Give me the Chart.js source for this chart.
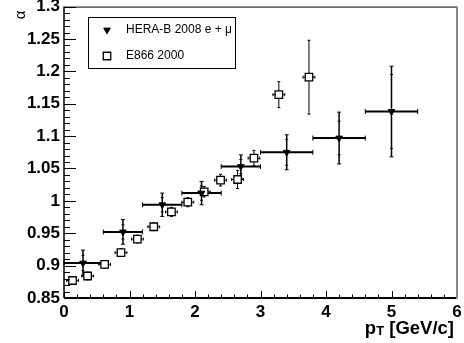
<!DOCTYPE html>
<html>
<head>
<meta charset="utf-8">
<script src="https://cdn.jsdelivr.net/npm/chart.js@4/dist/chart.umd.min.js"></script>
<style>
body{margin:0;background:#fff}
</style>
</head>
<body>
<canvas id="myChart" width="464" height="343"></canvas>
<script>
// HERA-B 2008 e + mu : bin centre, bin edges, total and stat errors
const heraX=[0.29,0.9,1.5,2.1,2.7,3.4,4.2,5.0];
const heraY=[0.904,0.952,0.994,1.012,1.053,1.075,1.097,1.138];
const heraXLo=[0,0.6,1.2,1.8,2.4,3.0,3.8,4.6];
const heraXHi=[0.6,1.2,1.8,2.4,3.0,3.8,4.6,5.4];
const heraErr=[0.02,0.019,0.018,0.018,0.018,0.027,0.04,0.07];
const heraStat=[0.012,0.011,0.011,0.011,0.011,0.02,0.026,0.057];
// E866 2000
const e866X=[0.13,0.36,0.62,0.87,1.12,1.37,1.64,1.89,2.14,2.39,2.65,2.9,3.28,3.74];
const e866Y=[0.877,0.884,0.902,0.920,0.941,0.960,0.983,0.998,1.014,1.032,1.033,1.066,1.164,1.191];
const e866Err=[0.006,0.006,0.006,0.006,0.006,0.006,0.007,0.007,0.008,0.009,0.014,0.012,0.02,0.057];
const e866XErr=[0.09,0.09,0.09,0.09,0.09,0.09,0.09,0.09,0.09,0.09,0.09,0.09,0.09,0.09];
// axes
const xRange=[0,6], xStep=1, xMinor=0.2;
const yRange=[0.85,1.3], yStep=0.05, yMinor=0.01;
const seriesNames=["HERA-B 2008 e + \u03bc","E866 2000"];
const yTitle="\u03b1";

const labelFont={family:"'Liberation Sans', Arial, sans-serif",size:17,weight:"bold"};

function line(ctx,x0,y0,x1,y1){
    ctx.beginPath();ctx.moveTo(x0,y0);ctx.lineTo(x1,y1);ctx.stroke();
}

const errorBars={
    id:"errorBars",
    beforeDatasetsDraw(chart){
        const ctx=chart.ctx, x=chart.scales.x, y=chart.scales.y;
        ctx.save();
        ctx.strokeStyle="#000";
        heraX.forEach((v,i)=>{
            const px=x.getPixelForValue(v), py=y.getPixelForValue(heraY[i]);
            const x0=x.getPixelForValue(heraXLo[i]), x1=x.getPixelForValue(heraXHi[i]);
            const yt=y.getPixelForValue(heraY[i]+heraErr[i]), yb=y.getPixelForValue(heraY[i]-heraErr[i]);
            const st=y.getPixelForValue(heraY[i]+heraStat[i]), sb=y.getPixelForValue(heraY[i]-heraStat[i]);
            ctx.lineWidth=2;
            line(ctx,x0,py,x1,py);
            ctx.lineWidth=1;
            line(ctx,x0,py-2.5,x0,py+2.5);
            line(ctx,x1,py-2.5,x1,py+2.5);
            ctx.lineWidth=1.5;
            line(ctx,px,yt,px,yb);
            ctx.lineWidth=1;
            line(ctx,px-2,yt,px+2,yt);
            line(ctx,px-2,yb,px+2,yb);
            line(ctx,px-1.5,st,px+1.5,st);
            line(ctx,px-1.5,sb,px+1.5,sb);
        });
        ctx.lineWidth=1;
        e866X.forEach((v,i)=>{
            const px=x.getPixelForValue(v), py=y.getPixelForValue(e866Y[i]);
            const x0=x.getPixelForValue(v-e866XErr[i]), x1=x.getPixelForValue(v+e866XErr[i]);
            const yt=y.getPixelForValue(e866Y[i]+e866Err[i]), yb=y.getPixelForValue(e866Y[i]-e866Err[i]);
            line(ctx,x0,py,x1,py);
            line(ctx,x0,py-1.5,x0,py+1.5);
            line(ctx,x1,py-1.5,x1,py+1.5);
            line(ctx,px,yt,px,yb);
            line(ctx,px-1.5,yt,px+1.5,yt);
            line(ctx,px-1.5,yb,px+1.5,yb);
        });
        ctx.restore();
    }
};

const frame={
    id:"frame",
    afterDraw(chart){
        const ctx=chart.ctx, a=chart.chartArea, x=chart.scales.x, y=chart.scales.y;
        ctx.save();
        ctx.strokeStyle="#000";
        // ticks
        ctx.lineWidth=1;
        for(let v=xRange[0];v<=xRange[1]+1e-9;v+=xMinor){
            const px=Math.round(x.getPixelForValue(v))+0.5;
            const major=Math.abs(v-Math.round(v/xStep)*xStep)<1e-6;
            line(ctx,px,a.bottom,px,a.bottom-(major?7:3.5));
        }
        for(let v=yRange[0];v<=yRange[1]+1e-9;v+=yMinor){
            const py=Math.round(y.getPixelForValue(v))+0.5;
            const major=Math.abs(v/yStep-Math.round(v/yStep))<1e-4;
            line(ctx,a.left,py,a.left+(major?12:6),py);
        }
        // frame
        ctx.lineWidth=1;
        line(ctx,a.left,a.top+0.5,a.right,a.top+0.5);
        ctx.lineWidth=1.5;
        line(ctx,a.left,a.top,a.left,a.bottom);
        ctx.lineWidth=2;
        line(ctx,a.left,a.bottom,a.right,a.bottom);
        ctx.strokeStyle="#888";
        line(ctx,a.right,a.top,a.right,a.bottom+1);

        // legend
        ctx.strokeStyle="#000";
        ctx.lineWidth=1;
        ctx.strokeRect(88.5,17.5,147,51);
        const ds=chart.data.datasets;
        const rows=[30,56];
        ds.forEach((d,i)=>{
            ctx.fillStyle=d.backgroundColor;
            ctx.strokeStyle=d.borderColor;
            ctx.lineWidth=d.borderWidth;
            Chart.helpers.drawPoint(ctx,{pointStyle:d.pointStyle,rotation:d.rotation||0,radius:d.pointRadius,borderWidth:d.borderWidth},107,rows[i]);
            ctx.fillStyle="#000";
            ctx.font="12px 'Liberation Sans', Arial, sans-serif";
            ctx.textBaseline="middle";
            ctx.textAlign="left";
            ctx.fillText(d.label,126,rows[i]);
        });

        // axis titles
        ctx.fillStyle="#000";
        ctx.textBaseline="alphabetic";
        ctx.textAlign="left";
        const big="bold 18.5px 'Liberation Sans', Arial, sans-serif";
        const small="bold 13px 'Liberation Sans', Arial, sans-serif";
        ctx.font=big;
        const w1=ctx.measureText("p").width;
        const w3=ctx.measureText(" [GeV/c]").width;
        ctx.font=small;
        const w2=ctx.measureText("T").width;
        let tx=a.right-3-(w1+w2+w3);
        const base=334;
        ctx.font=big;ctx.fillText("p",tx,base);tx+=w1;
        ctx.font=small;ctx.fillText("T",tx,base+1);tx+=w2;
        ctx.font=big;ctx.fillText(" [GeV/c]",tx,base);

        ctx.translate(25,a.top+4);
        ctx.rotate(-Math.PI/2);
        ctx.textAlign="right";
        ctx.font="15px 'Liberation Sans', Arial, sans-serif";
        ctx.fillText(yTitle,0,0);
        ctx.restore();
    }
};

new Chart(document.getElementById("myChart"),{
    type:"scatter",
    data:{
        datasets:[{
            label:seriesNames[0],
            data:heraX.map((v,i)=>({x:v,y:heraY[i]})),
            pointStyle:"triangle",
            rotation:180,
            pointRadius:3.8,
            backgroundColor:"#000",
            borderColor:"#000",
            borderWidth:1
        },{
            label:seriesNames[1],
            data:e866X.map((v,i)=>({x:v,y:e866Y[i]})),
            pointStyle:"rect",
            pointRadius:5.3,
            backgroundColor:"#fff",
            borderColor:"#000",
            borderWidth:1.3
        }]
    },
    options:{
        responsive:false,
        animation:false,
        layout:{padding:{top:4,right:7,left:0,bottom:0}},
        plugins:{legend:{display:false},tooltip:{enabled:false}},
        scales:{
            x:{
                type:"linear",min:xRange[0],max:xRange[1],
                grid:{display:false,drawTicks:false},
                border:{display:false},
                ticks:{stepSize:xStep,padding:4,color:"#000",font:labelFont,maxRotation:0,
                    callback:v=>String(v)},
                afterFit(s){s.height=45;s.paddingLeft=0;s.paddingRight=0;}
            },
            y:{
                type:"linear",min:yRange[0],max:yRange[1],
                grid:{display:false,drawTicks:false},
                border:{display:false},
                ticks:{stepSize:yStep,padding:4,color:"#000",font:labelFont,
                    callback:v=>String(+v.toFixed(2))},
                afterFit(s){s.width=64;s.paddingTop=0;s.paddingBottom=0;}
            }
        }
    },
    plugins:[errorBars,frame]
});
</script>
</body>
</html>
